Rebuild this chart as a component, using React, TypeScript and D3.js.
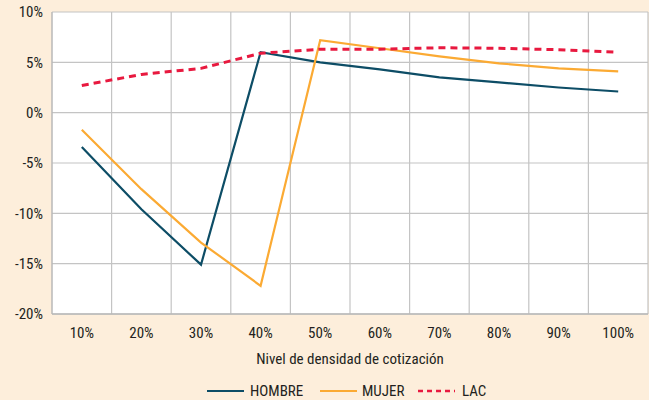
import React from 'react';
import * as d3 from 'd3';

const categories = ['10%', '20%', '30%', '40%', '50%', '60%', '70%', '80%', '90%', '100%'];
const hombre = [-3.4, -9.6, -15.1, 6.0, 5.0, 4.3, 3.5, 3.0, 2.5, 2.1];
const mujer = [-1.7, -7.6, -12.9, -17.2, 7.2, 6.4, 5.6, 4.9, 4.4, 4.1];
const lac = [2.7, 3.8, 4.4, 5.9, 6.3, 6.3, 6.45, 6.4, 6.25, 6.0];
const yTicks = [10, 5, 0, -5, -10, -15, -20];

const series = [
    { name: 'HOMBRE', values: hombre, color: '#0d4d66', dash: '' },
    { name: 'MUJER', values: mujer, color: '#fbaa33', dash: '' },
    { name: 'LAC', values: lac, color: '#e8193f', dash: '7,5' },
];

const W = 649;
const H = 400;
const FONT = '"Liberation Sans Narrow", "Roboto Condensed", Roboto, sans-serif';

export default function App() {
    const left = 52;
    const right = 648;
    const top = 12;
    const bottom = 314;

    const x = d3.scaleBand<string>().domain(categories).range([left, right]);
    const y = d3.scaleLinear().domain([-20, 10]).range([bottom, top]);

    const line = d3
        .line<number>()
        .x((_, i) => (x(categories[i]) ?? 0) + x.bandwidth() / 2)
        .y((d) => y(d));

    const legendItems = [
        { ...series[0], x0: 207, tx: 250 },
        { ...series[1], x0: 320, tx: 362 },
        { ...series[2], x0: 418, tx: 462 },
    ];

    return (
        <svg
            width={W}
            height={H}
            style={{ position: 'absolute', left: 0, top: 0, display: 'block' }}
            fontFamily={FONT}
        >
            <rect width={W} height={H} fill="#fdeedb" />
            <rect x={left} y={top} width={right - left} height={bottom - top} fill="#ffffff" />

            {/* horizontal grid */}
            {yTicks.map((t) => (
                <line key={t} x1={left} x2={right} y1={y(t)} y2={y(t)} stroke="#c4c4c4" strokeWidth={1.2} />
            ))}
            {/* vertical grid at band edges */}
            {categories.map((c) => (
                <line
                    key={c}
                    x1={x(c)! + x.bandwidth()}
                    x2={x(c)! + x.bandwidth()}
                    y1={top}
                    y2={bottom}
                    stroke="#c4c4c4"
                    strokeWidth={1.2}
                />
            ))}
            <line x1={left} x2={left} y1={top} y2={bottom} stroke="#b8b8b8" strokeWidth={1.5} />
            <line x1={left} x2={right} y1={bottom} y2={bottom} stroke="#b8b8b8" strokeWidth={1.5} />

            {/* y labels */}
            {yTicks.map((t) => (
                <text key={t} x={43} y={y(t)} dy="0.35em" textAnchor="end" fontSize={15} fill="#231f20">
                    {`${t}%`}
                </text>
            ))}
            {/* x labels */}
            {categories.map((c) => (
                <text
                    key={c}
                    x={x(c)! + x.bandwidth() / 2}
                    y={338}
                    textAnchor="middle"
                    fontSize={15}
                    fill="#231f20"
                >
                    {c}
                </text>
            ))}
            <text x={350} y={364} textAnchor="middle" fontSize={15} fill="#231f20">
                Nivel de densidad de cotización
            </text>

            {/* series */}
            {series.map((s) => (
                <path
                    key={s.name}
                    d={line(s.values) ?? ''}
                    fill="none"
                    stroke={s.color}
                    strokeWidth={s.dash ? 3 : 2.2}
                    strokeDasharray={s.dash || undefined}
                />
            ))}

            {/* legend */}
            {legendItems.map((s) => (
                <g key={s.name}>
                    <line
                        x1={s.x0}
                        x2={s.x0 + 37}
                        y1={391}
                        y2={391}
                        stroke={s.color}
                        strokeWidth={s.dash ? 2.5 : 2}
                        strokeDasharray={s.dash ? '5,4' : undefined}
                    />
                    <text x={s.tx} y={396} fontSize={15} fill="#231f20">
                        {s.name}
                    </text>
                </g>
            ))}
        </svg>
    );
}
